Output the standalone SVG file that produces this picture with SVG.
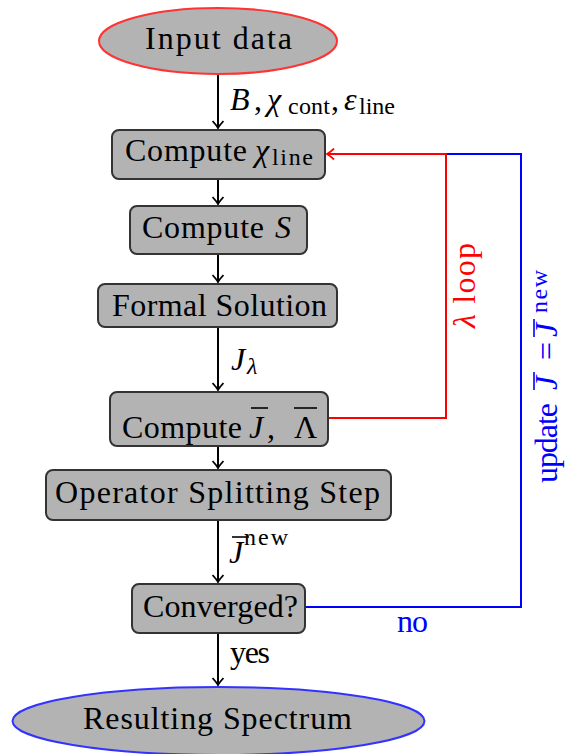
<svg xmlns="http://www.w3.org/2000/svg" width="565" height="754" viewBox="0 0 565 754">
<defs>
<style>
.t{font-family:"Liberation Serif","Times New Roman",serif;font-size:32px;fill:#000}
.s{font-size:24px}
.i{font-style:italic}
.box{fill:#b3b3b3;stroke:#333;stroke-width:2}
.e{stroke:#000;stroke-width:2;fill:none}
</style>
<marker id="ak" markerWidth="12" markerHeight="12" refX="0" refY="0" viewBox="-10 -6 12 12" markerUnits="userSpaceOnUse" orient="auto">
<path d="M-7,-5.5 Q-2,-1 0,0 Q-2,1 -7,5.5" fill="none" stroke="#000" stroke-width="1.8"/>
</marker>
<marker id="ar" markerWidth="12" markerHeight="12" refX="0" refY="0" viewBox="-10 -6 12 12" markerUnits="userSpaceOnUse" orient="auto">
<path d="M-7,-5.5 Q-2,-1 0,0 Q-2,1 -7,5.5" fill="none" stroke="#f00" stroke-width="1.8"/>
</marker>
</defs>
<rect width="565" height="754" fill="#fff"/>

<g id="connectors">
<line class="e" x1="218" y1="74" x2="218" y2="128" marker-end="url(#ak)"/>
<line class="e" x1="218" y1="179" x2="218" y2="204" marker-end="url(#ak)"/>
<line class="e" x1="218" y1="255" x2="218" y2="282" marker-end="url(#ak)"/>
<line class="e" x1="218" y1="328" x2="218" y2="390" marker-end="url(#ak)"/>
<line class="e" x1="218" y1="447" x2="218" y2="468" marker-end="url(#ak)"/>
<line class="e" x1="218" y1="520" x2="218" y2="582" marker-end="url(#ak)"/>
<line class="e" x1="218" y1="633" x2="218" y2="685" marker-end="url(#ak)"/>
<polyline points="305,607 521,607 521,154 446,154" fill="none" stroke="#00f" stroke-width="2"/>
<polyline points="328,418 446,418 446,154 327,154" fill="none" stroke="#f00" stroke-width="2" marker-end="url(#ar)"/>
<g class="t">
<text x="230" y="110"><tspan class="i">B</tspan><tspan x="254">,</tspan><tspan class="i" x="267">χ</tspan><tspan class="s" x="288" y="114" textLength="42">cont</tspan><tspan x="331" y="110">,</tspan><tspan class="i" x="344">ε</tspan><tspan class="s" x="359" y="114" textLength="36">line</tspan></text>
<text x="231" y="370"><tspan class="i">J</tspan><tspan class="s i" x="247" y="374">λ</tspan></text>
<text x="229" y="563"><tspan class="i">J</tspan><tspan class="s" x="244" y="545" textLength="44">new</tspan></text>
<line x1="232" y1="537" x2="249" y2="537" stroke="#000" stroke-width="1.6"/>
<text x="230" y="663" textLength="40">yes</text>
<text x="397" y="632" style="fill:#00f" textLength="31">no</text>
<g transform="translate(475,328) rotate(-90)"><text x="0" y="0" style="fill:#f00" textLength="85"><tspan class="i">λ</tspan> loop</text></g>
<g transform="translate(557,483) rotate(-90)"><text x="0" y="0" style="fill:#00f"><tspan textLength="80">update</tspan><tspan class="i" x="93">J</tspan><tspan x="123">=</tspan><tspan class="i" x="146">J</tspan><tspan class="s" x="170" y="-10" textLength="43">new</tspan></text>
<line x1="93" y1="-23" x2="111" y2="-23" stroke="#00f" stroke-width="1.6"/>
<line x1="146" y1="-23" x2="164" y2="-23" stroke="#00f" stroke-width="1.6"/>
</g>
</g>
</g>

<g id="input" class="t">
<ellipse cx="218" cy="41" rx="119" ry="33" fill="#b3b3b3" stroke="#f33" stroke-width="2"/>
<text x="145" y="49" textLength="147">Input data</text>
</g>
<g id="chiline" class="t">
<rect class="box" x="112" y="130" width="213" height="49" rx="7"/>
<text x="125" y="161"><tspan textLength="122">Compute</tspan><tspan class="i" x="255">χ</tspan><tspan class="s" x="272" y="165" textLength="41">line</tspan></text>
</g>
<g id="computeS" class="t">
<rect class="box" x="130" y="206" width="177" height="48" rx="7"/>
<text x="142" y="238"><tspan textLength="122">Compute</tspan><tspan class="i" x="275">S</tspan></text>
</g>
<g id="formal" class="t">
<rect class="box" x="98" y="284" width="239" height="43" rx="7"/>
<text x="112" y="316" textLength="215">Formal Solution</text>
</g>
<g id="computeJ" class="t">
<rect class="box" x="110" y="392" width="218" height="54" rx="7"/>
<text x="122" y="438"><tspan textLength="120">Compute</tspan><tspan class="i" x="249">J</tspan><tspan x="267">,</tspan><tspan x="294">Λ</tspan></text>
<line x1="251" y1="408" x2="268" y2="408" stroke="#000" stroke-width="1.6"/>
<line x1="294" y1="408" x2="317" y2="408" stroke="#000" stroke-width="1.6"/>
</g>
<g id="opsplit" class="t">
<rect class="box" x="46" y="470" width="345" height="50" rx="7"/>
<text x="55" y="503" textLength="325">Operator Splitting Step</text>
</g>
<g id="converged" class="t">
<rect class="box" x="132" y="584" width="173" height="49" rx="7"/>
<text x="143" y="617" textLength="155">Converged?</text>
</g>
<g id="result" class="t">
<ellipse cx="218.5" cy="721" rx="206" ry="34" fill="#b3b3b3" stroke="#33f" stroke-width="2"/>
<text x="83" y="729" textLength="269">Resulting Spectrum</text>
</g>
</svg>
